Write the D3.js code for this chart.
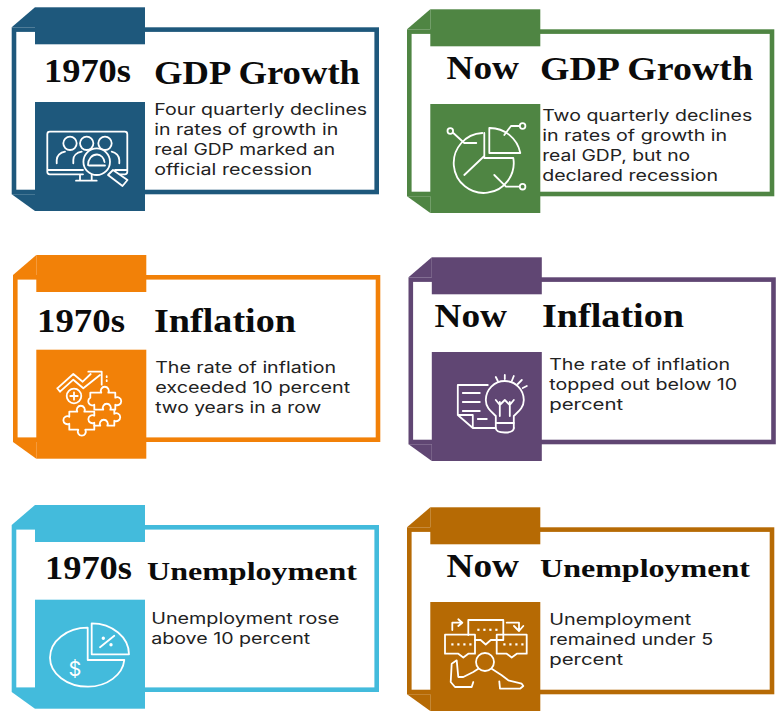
<!DOCTYPE html>
<html>
<head>
<meta charset="utf-8">
<script src="https://cdn.jsdelivr.net/npm/d3@7"></script>
<style>
  html, body { margin: 0; padding: 0; background: #fff; }
  svg { display: block; }
</style>
</head>
<body>
<div id="chart"></div>
<script>
// content, one entry per card (left column then right column, row by row)
const decades = ['1970s', 'Now', '1970s', 'Now', '1970s', 'Now'];
const topics = ['GDP Growth', 'GDP Growth', 'Inflation', 'Inflation', 'Unemployment', 'Unemployment'];
const bodyLines = [
  ['Four quarterly declines', 'in rates of growth in', 'real GDP marked an', 'official recession'],
  ['Two quarterly declines', 'in rates of growth in', 'real GDP, but no', 'declared recession'],
  ['The rate of inflation', 'exceeded 10 percent', 'two years in a row'],
  ['The rate of inflation', 'topped out below 10', 'percent'],
  ['Unemployment rose', 'above 10 percent'],
  ['Unemployment', 'remained under 5', 'percent']
];
const cardColors = ['#1e587c', '#4f8543', '#f28108', '#604673', '#43bbdc', '#b66a04'];
const iconNames = ['monitor', 'pie', 'puzzle', 'bulb', 'money', 'talk'];

// layout
const frameLeft = [11.7, 407, 13, 408.5, 11.7, 407];
const frameTop = [27.3, 29.3, 275, 277.3, 525, 527.3];
const decadeX = [44, 446.5, 37, 434.5, 45, 446.5];
const decadeW = [87, 72.5, 88, 72.5, 87, 72.5];
const decadeY = [82, 79, 332, 327, 578.5, 577];
const topicX = [154, 540, 154, 542, 147, 540];
const topicW = [206, 213, 142, 142, 210, 210];
const topicY = [84, 79.5, 332, 327, 580, 577];
const topicSize = [33, 33, 33, 33, 26, 26];
const bodyX = [154.2, 542.2, 155.2, 549.2, 151.2, 549.2];
const bodyY = [114.5, 120.5, 372.5, 369.5, 623.5, 624.5];
const bodyW = [
  [213, 184, 181, 158],
  [210, 185, 148, 176],
  [181, 195, 166],
  [181, 188, 74],
  [188, 159],
  [142, 164, 74]
];

const frameW = 367.3, frameH = 167, stroke = 4.6;
const tabInset = 23.3, tabW = 110, tabH = 37, tabRise = 20;
const blockDrop = 74.7, blockH = 109;

const svg = d3.select('#chart').append('svg').attr('width', 781).attr('height', 726);

const color = d3.scaleOrdinal().domain(d3.range(6)).range(cardColors);

// white line icons, drawn in the 110x109 box of the coloured block
const icons = {
  monitor(g) {
    g.append('path').attr('d', 'M12.3 32.2a2.5 2.5 0 0 1 2.5-2.5H89.8a2.5 2.5 0 0 1 2.5 2.5V69.8a2.5 2.5 0 0 1-2.5 2.5H85M48 72.3H14.8a2.5 2.5 0 0 1-2.5-2.5V32.2M12.3 68H48M80 68H92.3M45 72.3V78.7M56.7 72.3V78.7M41 78.7H61.7');
    g.selectAll('.head').data([[35, 41.3, 6.7], [51.7, 41.3, 6.7], [70, 41.3, 6.7]]).join('circle')
      .attr('cx', d => d[0]).attr('cy', d => d[1]).attr('r', d => d[2]);
    g.append('path').attr('d', 'M21.7 61.3V58C21.7 54 25 50.5 30 49.7M38.3 61.3V58C38.3 54 41.5 50.5 46.7 49.7M84.3 61.3V58C84.3 54 81 50.5 76.7 49.7');
    g.append('circle').attr('cx', 61.7).attr('cy', 59.7).attr('r', 13.3).attr('fill', cardColors[0]);
    g.append('path').attr('d', 'M53 63C53 57 57 52.5 62 52.5C66 52.5 69 56 69.5 60M54 63.5H70');
    g.append('path').attr('fill', cardColors[0]).attr('d', 'M78 68L92.5 78L87.5 84L73 73Z');
  },
  pie(g) {
    g.append('path').attr('d', 'M52 29A30 30 0 1 0 83 54H54V29M54 52L34 71');
    g.append('path').attr('d', 'M59 24V49H90A31 31 0 0 0 59 24Z');
    g.append('path').attr('d', 'M23 29L34 39H46M88.5 22H80.7L74 31M88.5 82.7H75.7L64 71');
    g.selectAll('.dot').data([[20, 27], [92.3, 22], [92.3, 82.7]]).join('circle')
      .attr('cx', d => d[0]).attr('cy', d => d[1]).attr('r', 2.8);
  },
  puzzle(g) {
    g.append('path').attr('d', 'M23.7 42L37 30L47 38.6L63.7 25.3M21 38.6L37 24.3L46.4 32L54.4 24.3M23.7 42L21 38.6');
    g.append('path').attr('d', 'M52 22H65.4V35');
    g.append('circle').attr('cx', 37.7).attr('cy', 46.3).attr('r', 7.3);
    g.append('path').attr('d', 'M34 46.3H41.4M37.7 42.6V50');
    g.append('path').attr('d', 'M70.4 26.5v1M70.4 30.5v1');
    g.append('path').attr('d', 'M54 43H65A4 4 0 1 1 72 43H79V48A4 4 0 1 1 79 55V60H74A4 4 0 1 0 67 60H58V55A4 4 0 1 1 54 48Z');
    g.append('path').attr('d', 'M33 62H41A4 4 0 1 1 48 62H58V66A4 4 0 1 0 58 73V80H49A4 4 0 1 1 42 80H33V74A4 4 0 1 1 33 67Z');
    g.append('path').attr('d', 'M58 76H64A4 4 0 1 1 71 76H78V71A4 4 0 1 0 78 64V60');
  },
  bulb(g) {
    g.append('path').attr('d', 'M63 76H41L26 63V33H56M26 63H41V76');
    g.append('path').attr('d', 'M31 41H48M31 50H48M31 59H48M46 67H55');
    g.append('path').attr('d', 'M64 76V64C60 60 54 56 54 48A19 19 0 0 1 92 48C92 56 86 60 82 64V76');
    g.append('path').attr('d', 'M64 71H82M64 76C64 80 68 80.5 73 80.5S82 80 82 76M68 64V50M78 64V50M68 53L64 48M68 53L73 48L78 53L82 48');
    g.append('path').attr('d', 'M64 25L66 29M73 23V27M82 24L80 29M90 28L86 32M95 34L91 36');
  },
  money(g) {
    g.append('path').attr('d', 'M52.7 28A37.7 30 0 0 0 15 58A38 29 0 0 0 53 87A37 29 0 0 0 89.3 60.3H52.7Z');
    g.append('path').attr('d', 'M56.7 23.6V54.6H94A37.5 31 0 0 0 56.7 23.6Z');
    g.append('path').attr('d', 'M65 47.6L79.3 36');
    g.selectAll('.dot').data([[68.3, 38.6], [76, 45]]).join('circle')
      .attr('cx', d => d[0]).attr('cy', d => d[1]).attr('r', 0.8).attr('fill', '#fff');
    g.append('text').attr('x', 40).attr('y', 76.5).attr('text-anchor', 'middle')
      .attr('font-family', 'Inter').attr('font-size', 20)
      .attr('fill', '#fff').attr('stroke', 'none').text('$');
  },
  talk(g) {
    g.append('path').attr('d', 'M38 33V18H73V38H60.5L55.4 42.5L50.3 38H44.7');
    g.append('path').attr('d', 'M14.7 32.7H44.7V51.7H38L33 55.5L28 51.7H14.7Z');
    g.append('path').attr('d', 'M66.4 32.7H96.4V51.7H86.5L81.4 55.5L76.4 51.7H66.4Z');
    g.selectAll('.dot').data([[48, 27.7], [54, 27.7], [60, 27.7], [66, 27.7], [22, 42.3], [28, 42.3], [34, 42.3], [40, 42.3], [74, 42.3], [80, 42.3], [86, 42.3], [92, 42.3]]).join('rect')
      .attr('x', d => d[0] - 1).attr('y', d => d[1] - 1).attr('width', 2.2).attr('height', 2.2)
      .attr('fill', '#fff').attr('stroke', 'none');
    g.append('path').attr('d', 'M22 28V20.7H31M28 17.3L32 20.7L28 24M76.4 20.7H88.7V27M83.7 24L88.7 29L93 24');
    g.append('circle').attr('cx', 54.7).attr('cy', 60).attr('r', 9);
    g.append('path').attr('d', 'M48 66.7L43 70L33 75H28L26.4 58.3L21.4 61.7L20.4 80L24.7 85H41.4L43 80');
    g.append('path').attr('d', 'M61.4 66.7L71.4 73.3L78 78.3L91.4 81.7L93 84L89.7 86.7H69.7L69 79.3');
  }
};

const cards = svg.selectAll('g.card').data(d3.range(6)).join('g')
  .attr('class', 'card')
  .attr('transform', i => `translate(${frameLeft[i]},${frameTop[i]})`);

// outline plus the folded corners
cards.append('rect')
  .attr('x', stroke / 2).attr('y', stroke / 2)
  .attr('width', frameW - stroke).attr('height', frameH - stroke)
  .attr('fill', '#fff')
  .attr('stroke', i => color(i)).attr('stroke-width', stroke);

cards.append('path')
  .attr('fill', i => color(i))
  .attr('d', () => d3.line()([[0, 0], [tabInset, -tabRise], [tabInset, 0]]) + 'Z');

cards.append('path')
  .attr('fill', i => color(i))
  .attr('d', () => d3.line()([[0, frameH], [tabInset, blockDrop + blockH], [tabInset, frameH]]) + 'Z');

cards.append('rect')
  .attr('x', tabInset).attr('y', -tabRise)
  .attr('width', tabW).attr('height', tabH)
  .attr('fill', i => color(i));

cards.append('rect')
  .attr('x', tabInset).attr('y', blockDrop)
  .attr('width', tabW).attr('height', blockH)
  .attr('fill', i => color(i));

cards.append('g')
  .attr('transform', `translate(${tabInset},${blockDrop})`)
  .attr('fill', 'none').attr('stroke', '#fff')
  .attr('stroke-width', 1.8).attr('stroke-linejoin', 'round').attr('stroke-linecap', 'round')
  .each(function (i) { icons[iconNames[i]](d3.select(this)); });

// text sits in page coordinates
const titleFont = '"Liberation Serif", serif';
const bodyFont = 'Inter, "Open Sans", sans-serif';

svg.selectAll('text.decade').data(d3.range(6)).join('text')
  .attr('class', 'decade')
  .attr('x', i => decadeX[i]).attr('y', i => decadeY[i])
  .attr('textLength', i => decadeW[i]).attr('lengthAdjust', 'spacingAndGlyphs')
  .attr('font-family', titleFont).attr('font-weight', 700).attr('font-size', 33)
  .attr('fill', '#0b0b0b')
  .text(i => decades[i]);

svg.selectAll('text.topic').data(d3.range(6)).join('text')
  .attr('class', 'topic')
  .attr('x', i => topicX[i]).attr('y', i => topicY[i])
  .attr('textLength', i => topicW[i]).attr('lengthAdjust', 'spacingAndGlyphs')
  .attr('font-family', titleFont).attr('font-weight', 700).attr('font-size', i => topicSize[i])
  .attr('fill', '#0b0b0b')
  .text(i => topics[i]);

d3.range(6).forEach(i => {
  svg.selectAll(`text.body${i}`).data(bodyLines[i]).join('text')
    .attr('class', `body${i}`)
    .attr('x', bodyX[i]).attr('y', (d, k) => bodyY[i] + k * 20.3)
    .attr('textLength', (d, k) => bodyW[i][k]).attr('lengthAdjust', 'spacingAndGlyphs')
    .attr('font-family', bodyFont).attr('font-size', 15.5)
    .attr('fill', '#222')
    .text(d => d);
});
</script>
</body>
</html>
